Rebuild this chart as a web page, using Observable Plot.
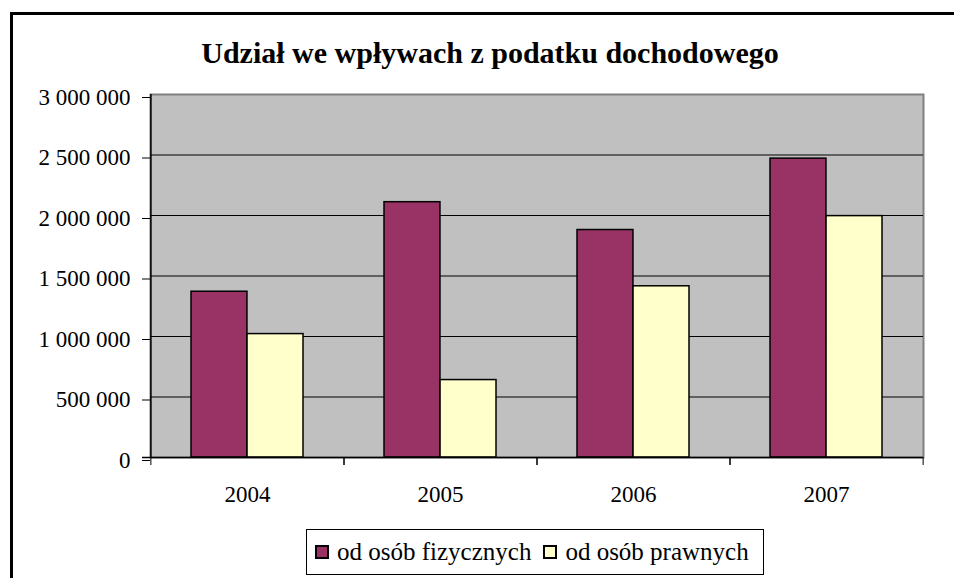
<!DOCTYPE html>
<html>
<head>
<meta charset="utf-8">
<script src="https://cdn.jsdelivr.net/npm/d3@7"></script>
<script src="https://cdn.jsdelivr.net/npm/@observablehq/plot@0.6"></script>
<style>
  html, body { margin: 0; padding: 0; background: #fff; overflow: hidden; }
  #wrap { position: relative; width: 954px; height: 578px; font-family: 'Liberation Serif'; }
  #frame { position: absolute; left: 10px; top: 12px; width: 980px; height: 600px;
           border-top: 3px solid #000; border-left: 3px solid #000; box-sizing: border-box; }
  #title { position: absolute; left: 0; width: 980px; top: 36px; text-align: center;
           font-family: 'Liberation Serif'; font-weight: bold; font-size: 30px; color: #000; }
  #chart { position: absolute; left: 0; top: 0; }
  #legend { position: absolute; left: 306px; top: 529px; width: 458px; height: 46px;
            border: 1px solid #000; box-sizing: border-box; display: flex; align-items: center;
            padding-left: 8px; color: #000; background: #fff; }
  .sw { display: inline-block; width: 14px; height: 14px; border: 2px solid #000; box-sizing: border-box; margin-right: 8px; flex: none; }
  .item { display: flex; align-items: center; margin-right: 12px; white-space: nowrap; }
  .lbl { font-family: 'Liberation Serif'; font-size: 25px; font-weight: normal; }
  svg text { font-family: 'Liberation Serif'; }
</style>
</head>
<body>
<div id="wrap">
  <div id="frame"></div>
  <div id="chart"></div>
  <div id="title">Udział we wpływach z podatku dochodowego</div>
  <div id="legend"></div>
</div>
<script>
const years = ["2004", "2005", "2006", "2007"];
const series = ["od osób fizycznych", "od osób prawnych"];
const fizyczne = [1370000, 2110000, 1880000, 2470000];
const prawne = [1020000, 640000, 1415000, 1995000];
const yTicks = [0, 500000, 1000000, 1500000, 2000000, 2500000, 3000000];
const colors = ["#993366", "#FFFFCC"];

const W = 954, H = 578;
const mL = 150, mR = 31, mT = 94, mB = 121;
const pad = 0.42;
const step = (W - mL - mR) / years.length;
const bw = step * (1 - pad);

const fizData = years.map((y, i) => ({year: y, value: fizyczne[i]}));
const prawData = years.map((y, i) => ({year: y, value: prawne[i]}));

const fmt = d3.formatLocale({thousands: " ", grouping: [3], decimal: ","}).format(",");

const chart = Plot.plot({
  width: W, height: H,
  marginLeft: mL, marginRight: mR, marginTop: mT, marginBottom: mB,
  style: {fontFamily: "'Liberation Serif'", fontSize: "23px", color: "#000", background: "transparent"},
  x: {domain: years, paddingInner: pad, paddingOuter: pad / 2, axis: null, label: null},
  y: {domain: [0, 3000000], axis: null, label: null},
  marks: [
    Plot.frame({fill: "#C0C0C0", stroke: "#808080", strokeWidth: 2}),
    Plot.ruleY(yTicks.slice(1, -1), {stroke: "#000", strokeWidth: 1}),
    Plot.barY(fizData, {x: "year", y: "value", fill: colors[0], stroke: "#000", strokeWidth: 1.5, insetRight: bw / 2, insetLeft: 0}),
    Plot.barY(prawData, {x: "year", y: "value", fill: colors[1], stroke: "#000", strokeWidth: 1.5, insetLeft: bw / 2, insetRight: 0}),
    Plot.ruleX([years[0]], {x: d => d, dx: -step / 2, y1: 0, y2: 3000000, stroke: "#000", strokeWidth: 1.5}),
    Plot.ruleY([0], {stroke: "#000", strokeWidth: 1.5, insetLeft: -8}),
    Plot.axisY({ticks: yTicks, tickFormat: fmt, tickSize: 8, tickPadding: 12, dy: 3, stroke: "#000", fontSize: 23, label: null}),
    Plot.axisX({tickSize: 8, tickFormat: () => "", dx: -step / 2, stroke: "#000", label: null}),
    Plot.axisX({tickSize: 8, tickFormat: () => "", dx: step / 2, stroke: "#000", label: null}),
    Plot.axisX({tickSize: 0, tickPadding: 28, fontSize: 23, label: null})
  ]
});
document.getElementById("chart").appendChild(chart);

const legend = document.getElementById("legend");
series.forEach((s, i) => {
  const it = document.createElement("span");
  it.className = "item";
  const sw = document.createElement("span");
  sw.className = "sw";
  sw.style.background = colors[i];
  const lbl = document.createElement("span");
  lbl.className = "lbl";
  lbl.textContent = s;
  it.appendChild(sw);
  it.appendChild(lbl);
  legend.appendChild(it);
});
</script>
</body>
</html>
